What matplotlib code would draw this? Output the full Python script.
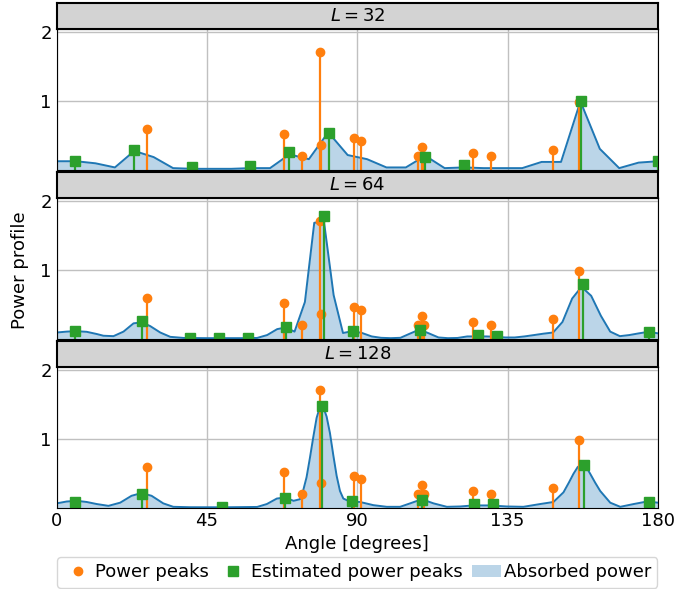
import numpy as np
import matplotlib
matplotlib.use('Agg')
import matplotlib.pyplot as plt
from matplotlib.lines import Line2D
from matplotlib.patches import Patch

# power peaks (same in every panel)
peak_angles = [26.9, 67.9, 73.3, 78.8, 79.0, 89.0, 91.2, 108.3, 109.3, 109.9, 124.5, 129.9, 148.7, 156.3]
peak_values = [0.59, 0.51, 0.20, 1.70, 0.35, 0.46, 0.42, 0.19, 0.33, 0.19, 0.24, 0.19, 0.28, 0.98]

# absorbed power, L = 32
abs32_angles = list(np.linspace(0, 180, 32))
abs32_values = [0.12, 0.12, 0.09, 0.03, 0.27, 0.18, 0.02, 0.01, 0.01, 0.01, 0.02, 0.02,
                0.22, 0.15, 0.54, 0.21, 0.15, 0.03, 0.03, 0.20, 0.02, 0.03, 0.02, 0.02,
                0.02, 0.11, 0.11, 0.99, 0.30, 0.02, 0.10, 0.12]
est32_angles = [5.4, 23.1, 40.5, 58.0, 69.6, 81.4, 110.4, 122.0, 157.0, 179.9]
est32_values = [0.13, 0.28, 0.03, 0.05, 0.25, 0.53, 0.18, 0.06, 1.00, 0.12]

# absorbed power, L = 64
abs64_angles = [0, 3.0, 5.6, 9.0, 12.0, 14.0, 17.0, 20.0, 23.0, 25.5, 28.0, 31.0, 34.0, 38.0,
                45.0, 55.0, 60.0, 63.0, 66.0, 68.5, 71.2, 74.3, 77.1, 80.0, 82.9, 85.7, 88.6,
                91.4, 94.3, 97.1, 100.0, 102.9, 105.7, 108.6, 111.4, 114.3, 117.1, 120.0,
                122.9, 125.7, 128.6, 131.4, 134.3, 137.1, 140.0, 142.9, 145.7, 148.6, 151.4,
                154.3, 157.1, 160.0, 162.9, 165.7, 168.6, 171.4, 174.3, 177.1, 180.0]
abs64_values = [0.087, 0.10, 0.107, 0.097, 0.065, 0.04, 0.034, 0.10, 0.22, 0.235, 0.18, 0.087,
                0.024, 0.008, 0.005, 0.005, 0.008, 0.05, 0.136, 0.16, 0.10, 0.53, 1.68, 1.70,
                0.63, 0.08, 0.107, 0.08, 0.03, 0.01, 0.005, 0.01, 0.07, 0.13, 0.075, 0.015,
                0.005, 0.008, 0.03, 0.03, 0.03, 0.025, 0.015, 0.015, 0.03, 0.05, 0.07, 0.087,
                0.24, 0.58, 0.75, 0.62, 0.33, 0.10, 0.034, 0.05, 0.075, 0.097, 0.075]
est64_angles = [5.6, 25.6, 40.0, 48.6, 57.2, 68.7, 80.0, 88.6, 108.8, 126.0, 131.7, 157.4, 177.4]
est64_values = [0.107, 0.25, 0.01, 0.01, 0.01, 0.17, 1.78, 0.107, 0.13, 0.045, 0.034, 0.79, 0.09]

# absorbed power, L = 128
abs128_angles = [0, 3.0, 6.0, 9.0, 12.0, 15.5, 19.0, 22.4, 25.4, 28.4, 31.9, 34.9, 40.0, 50.0,
                 60.0, 62.9, 65.9, 68.4, 70.9, 72.8, 73.8, 74.8, 75.8, 76.8, 77.8, 78.6, 79.3,
                 80.0, 80.8, 81.8, 82.8, 83.8, 84.8, 85.8, 87.8, 90.8, 94.8, 98.8, 102.8, 105.8,
                 109.3, 112.8, 116.8, 120.8, 124.7, 129.7, 134.7, 139.7, 144.7, 148.7, 151.7,
                 153.3, 154.7, 156.0, 157.2, 158.5, 159.7, 161.2, 162.7, 165.7, 168.7, 172.7,
                 176.7, 180.0]
abs128_values = [0.06, 0.087, 0.097, 0.08, 0.05, 0.024, 0.07, 0.17, 0.21, 0.17, 0.06, 0.01,
                 0.004, 0.003, 0.008, 0.05, 0.13, 0.145, 0.097, 0.12, 0.25, 0.44, 0.72, 1.02,
                 1.30, 1.43, 1.46, 1.43, 1.32, 1.08, 0.76, 0.46, 0.24, 0.13, 0.085, 0.08, 0.034,
                 0.01, 0.01, 0.06, 0.12, 0.06, 0.01, 0.015, 0.03, 0.03, 0.015, 0.01, 0.05, 0.08,
                 0.22, 0.36, 0.49, 0.59, 0.62, 0.59, 0.49, 0.36, 0.24, 0.07, 0.01, 0.05, 0.087,
                 0.07]
est128_angles = [5.6, 25.4, 49.6, 68.2, 79.5, 88.3, 109.3, 125.0, 130.7, 157.7, 177.4]
est128_values = [0.087, 0.19, 0.01, 0.14, 1.47, 0.097, 0.107, 0.045, 0.045, 0.62, 0.087]

sizes = ['32', '64', '128']
absorbed = [(abs32_angles, abs32_values), (abs64_angles, abs64_values), (abs128_angles, abs128_values)]
estimated = [(est32_angles, est32_values), (est64_angles, est64_values), (est128_angles, est128_values)]

W, H = 699, 589
fig = plt.figure(figsize=(W / 100, H / 100), dpi=100)
plt.rcParams['font.size'] = 13

left = 56.7 / W
width = (658 - 56.7) / W

axes = []
for k in range(3):
    box_top = 3.3 + 169 * k
    ax_top = box_top + 25.7
    ax_bot = ax_top + 140.5

    ax = fig.add_axes([left, 1 - ax_bot / H, width, 140.5 / H])
    ax.set_axisbelow(True)
    ax.grid(True, color='#c0c0c0', lw=1.0)

    xa, ya = absorbed[k]
    ax.fill_between(xa, ya, 0, color='C0', alpha=0.3, lw=0)
    ax.plot(xa, ya, color='C0', lw=1.4)

    ax.vlines(peak_angles, 0, peak_values, color='C1', lw=1.6)
    ax.plot(peak_angles, peak_values, 'o', color='C1', ms=6)

    xe, ye = estimated[k]
    ax.vlines(xe, 0, ye, color='C2', lw=1.6)
    ax.plot(xe, ye, 's', color='C2', ms=6.5)

    ax.set_xlim(0, 180)
    ax.set_ylim(0, 2.04)
    ax.set_xticks([0, 45, 90, 135, 180])
    ax.set_yticks([1, 2])
    ax.tick_params(labelsize=13, length=0)
    if k < 2:
        ax.tick_params(labelbottom=False)
    axes.append(ax)

    # grey title strip
    tb = fig.add_axes([left, 1 - ax_top / H, width, 25.7 / H])
    tb.set_facecolor('lightgray')
    tb.set_xticks([])
    tb.set_yticks([])
    for s in tb.spines.values():
        s.set_linewidth(1.5)
    tb.text(0.5, 0.5, '$L = ' + sizes[k] + '$', ha='center', va='center', fontsize=13, transform=tb.transAxes)

axes[2].set_xlabel('Angle [degrees]', fontsize=13, labelpad=3)
fig.text(20 / W, 1 - 270 / H, 'Power profile', rotation=90, ha='center', va='center', fontsize=13)

handles = [Line2D([], [], marker='o', color='C1', ls='none', ms=6),
           Line2D([], [], marker='s', color='C2', ls='none', ms=6.5),
           Patch(facecolor='C0', alpha=0.3, edgecolor='none')]
labels = ['Power peaks', 'Estimated power peaks', 'Absorbed power']
fig.legend(handles, labels, loc='upper center', bbox_to_anchor=((56.7 + 658) / 2 / W, 1 - 557 / H),
           ncol=3, fontsize=13, handlelength=1.6, handletextpad=0.15, columnspacing=0.55,
           borderpad=0.35, borderaxespad=0)

plt.savefig('out.png', dpi=100)
plt.close()
